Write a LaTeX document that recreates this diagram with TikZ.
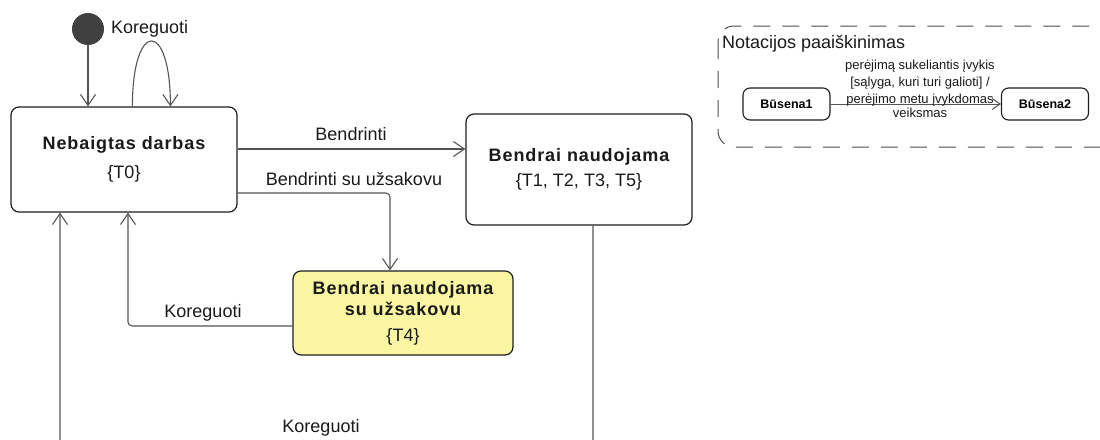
\documentclass[tikz,border=0pt]{standalone}
\usepackage{fontspec}
\setmainfont{Liberation Sans}
\newfontfamily\titlefont{Liberation Sans}[LetterSpace=5]
\usetikzlibrary{arrows.meta,calc}
\definecolor{lineg}{HTML}{555555}
\definecolor{boxedge}{HTML}{1E1E1E}
\definecolor{stickyyellow}{HTML}{FAF6A2}
\definecolor{txt}{HTML}{1A1A1A}
\begin{document}
\begin{tikzpicture}[x=1pt,y=-1pt,
  state/.style={draw=boxedge, line width=1.2pt, rounded corners=8pt, fill=white,
    inner sep=0pt, align=center, text=txt,
    font=\fontsize{18}{21.6}\selectfont},
  conn/.style={draw=lineg, line width=1.1pt, rounded corners=4pt,
    -{Straight Barb[length=11pt,width=15pt]}},
  lbl/.style={text=txt, inner sep=0pt, font=\fontsize{18}{21.6}\selectfont},
  smalllbl/.style={text=txt, inner sep=0pt, align=center,
    font=\fontsize{13}{16}\selectfont},
  legendstate/.style={draw=boxedge, line width=1.1pt, rounded corners=7pt,
    minimum width=87pt, minimum height=32pt, inner sep=0pt,
    font=\fontsize{12.5}{15}\selectfont\bfseries}
]
\clip (0,0) rectangle (1100,439);
\fill[white] (0,0) rectangle (1100,439);

% initial pseudo-state
\node[circle, fill=black!75, minimum size=32pt, inner sep=0pt] (start) at (88,29) {};

% states
\node[state, minimum width=226pt, minimum height=105pt] (nb) at (124,159.5)
  {{\titlefont\bfseries Nebaigtas darbas}\\[8pt]\{T0\}};
\node[state, minimum width=226pt, minimum height=111pt] (bn) at (579,169.5)
  {{\titlefont\bfseries Bendrai naudojama}\\[3pt]\{T1, T2, T3, T5\}};
\node[state, fill=stickyyellow, minimum width=220pt, minimum height=84pt] (ys) at (403,313)
  {{\titlefont\bfseries Bendrai naudojama}\\[0pt]{\titlefont\bfseries su užsakovu}\\[4pt]\{T4\}};

% transitions
\draw[conn] (start) -- (start |- nb.north);
\draw[conn, rounded corners=0pt] ($(nb.north west)+(122,0)$)
  .. controls +(0,-87) and +(0,-87) .. ($(nb.north west)+(160,0)$);
\node[lbl, anchor=west] (kself) at (111,29) {Koreguoti};

\draw[conn] (nb.east |- 0,149) -- (bn.west |- 0,149);
\node[lbl] (lbend) at (351,134) {Bendrinti};

\draw[conn] (nb.east |- 0,193) -| ($(ys.north)+(-13,0)$);
\node[lbl] (lbendu) at (354,179) {Bendrinti su užsakovu};

\draw[conn] (ys.west |- 0,326) -| (nb.south -| 128,0);
\node[lbl] (lkor1) at (203,313) {Koreguoti};

\draw[conn] (bn.south -| 593,0) -- (593,452) -| (nb.south -| 60,0);
\node[lbl] (lkor2) at (321,428) {Koreguoti};

% notation legend
\draw[draw=black!70, line width=1pt, rounded corners=16pt,
  dash pattern=on 17pt off 12pt] (718,26) rectangle (1120,147);
\node[lbl, anchor=west] (legtitle) at (722,44) {Notacijos paaiškinimas};
\node[legendstate] (b1) at (786.5,104) {Būsena1};
\node[legendstate] (b2) at (1045,104) {Būsena2};
\draw[draw=lineg, line width=1pt, -{Straight Barb[length=8pt,width=11pt]}] (b1) -- (b2);
\node[smalllbl] (legtext) at (920,89)
  {perėjimą sukeliantis įvykis\\[1pt][sąlyga, kuri turi galioti] /\\[1pt]perėjimo metu įvykdomas\\[-2pt]veiksmas};
\end{tikzpicture}
\end{document}
